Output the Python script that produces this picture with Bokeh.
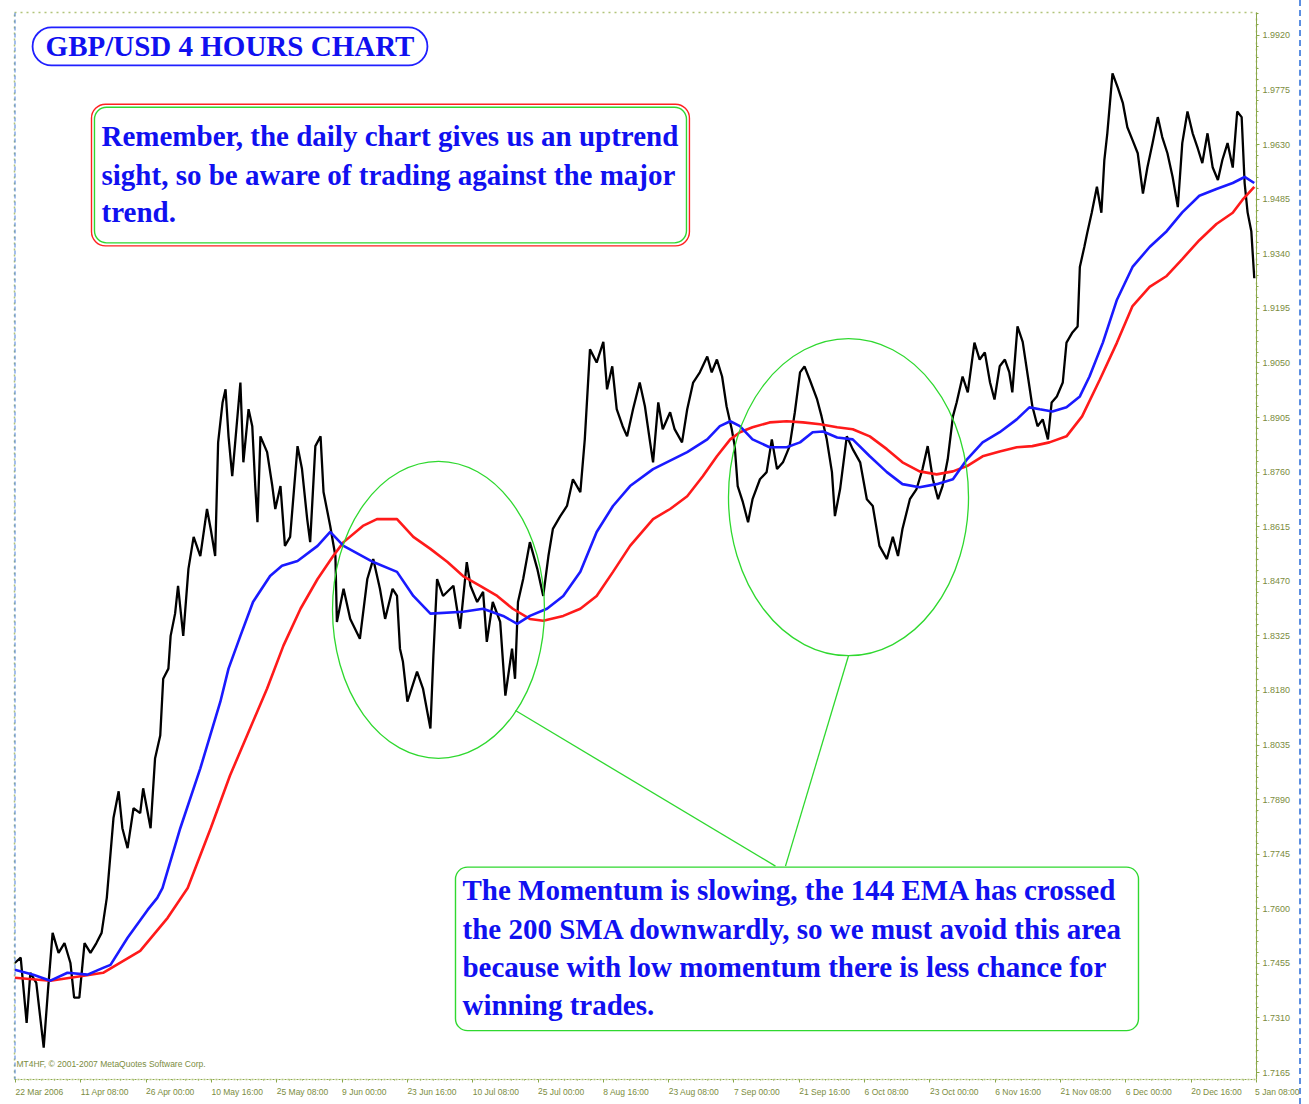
from bokeh.plotting import figure
from bokeh.models import (Range1d, FixedTicker, Label, BoxAnnotation, Span)
from bokeh.embed import file_html
from bokeh.resources import INLINE

# ---------------- data (bar index of 4-hour bars, price) ----------------
price_bar = [
    -1, 7, 15, 20, 28, 38, 44, 50, 58, 66,
    74, 79, 86, 93, 101, 109, 116, 123, 132, 139,
    144, 151, 159, 168, 172, 182, 188, 195, 199, 206,
    209, 215, 219, 226, 233, 240, 249, 258, 263, 269,
    273, 279, 283, 287, 292, 296, 303, 307, 314, 319,
    323, 326, 330, 339, 346, 350, 357, 363, 370, 380,
    386, 393, 397, 404, 411, 415, 424, 431, 433, 442,
    451, 464, 474, 482, 491, 498, 508, 514, 518, 522,
    528, 541, 549, 559, 563, 568, 576, 590, 599, 608,
    613, 622, 630, 635, 643, 653, 660, 669, 673, 677,
    684, 693, 703, 711, 718, 724, 734, 743, 751, 761,
    767, 774, 783, 792, 797, 804, 810, 818, 824, 832,
    841, 848, 855, 859, 866, 872, 882, 888, 898, 905,
    913, 922, 932, 938, 945, 952, 958, 965, 969, 973,
    980, 987, 993, 1003, 1012, 1019, 1026, 1034, 1043, 1050,
    1057, 1063, 1070, 1080, 1086, 1093, 1100, 1104, 1111, 1120,
    1128, 1138, 1147, 1155, 1164, 1174, 1182, 1189, 1195, 1205,
    1214, 1222, 1229, 1236, 1243, 1249, 1256, 1263, 1268, 1276,
    1283, 1292, 1299, 1306, 1313, 1319, 1326, 1333, 1339, 1343,
    1350, 1357, 1364, 1370, 1377, 1384, 1391, 1396, 1403, 1411,
    1416, 1424, 1431, 1434, 1440, 1444, 1450, 1457, 1463, 1467,
    1471, 1478, 1485, 1492, 1498, 1505, 1512, 1519, 1525, 1532,
    1539, 1545, 1552, 1559, 1566, 1572, 1579, 1586, 1593, 1599,
    1606, 1613, 1620, 1626, 1633, 1640, 1646, 1652, 1656, 1660,
    1665, 1669,
]
price_close = [
    1.7456, 1.7470, 1.7297, 1.7430, 1.7403, 1.7231, 1.7390, 1.7536, 1.7483, 1.7509,
    1.7456, 1.7364, 1.7364, 1.7509, 1.7483, 1.7509, 1.7536, 1.7629, 1.7841, 1.7912,
    1.7814, 1.7761, 1.7867, 1.7854, 1.7920, 1.7814, 1.7999, 1.8060, 1.8211, 1.8238,
    1.8325, 1.8384, 1.8458, 1.8325, 1.8503, 1.8588, 1.8537, 1.8662, 1.8609, 1.8537,
    1.8839, 1.8945, 1.8980, 1.8855, 1.8749, 1.8839, 1.8998, 1.8786, 1.8927, 1.8882,
    1.8723, 1.8627, 1.8855, 1.8813, 1.8723, 1.8662, 1.8723, 1.8564, 1.8588, 1.8829,
    1.8768, 1.8635, 1.8574, 1.8829, 1.8855, 1.8707, 1.8617, 1.8537, 1.8362, 1.8450,
    1.8370, 1.8317, 1.8476, 1.8529, 1.8450, 1.8370, 1.8450, 1.8431, 1.8291, 1.8256,
    1.8150, 1.8230, 1.8185, 1.8079, 1.8272, 1.8476, 1.8431, 1.8458, 1.8344, 1.8521,
    1.8458, 1.8415, 1.8442, 1.8309, 1.8415, 1.8362, 1.8166, 1.8291, 1.8211, 1.8415,
    1.8476, 1.8574, 1.8503, 1.8431, 1.8537, 1.8609, 1.8643, 1.8670, 1.8741, 1.8707,
    1.8847, 1.9086, 1.9051, 1.9106, 1.8980, 1.9041, 1.8927, 1.8882, 1.8855, 1.8927,
    1.8998, 1.8935, 1.8839, 1.8786, 1.8945, 1.8874, 1.8919, 1.8874, 1.8839, 1.8927,
    1.8998, 1.9025, 1.9067, 1.9025, 1.9059, 1.9014, 1.8935, 1.8874, 1.8829, 1.8723,
    1.8680, 1.8627, 1.8688, 1.8741, 1.8760, 1.8847, 1.8768, 1.8786, 1.8829, 1.8919,
    1.9025, 1.9041, 1.9006, 1.8953, 1.8908, 1.8847, 1.8760, 1.8643, 1.8715, 1.8855,
    1.8821, 1.8786, 1.8688, 1.8670, 1.8564, 1.8529, 1.8588, 1.8537, 1.8609, 1.8688,
    1.8715, 1.8768, 1.8829, 1.8741, 1.8688, 1.8723, 1.8794, 1.8908, 1.8945, 1.9014,
    1.8972, 1.9104, 1.9059, 1.9078, 1.8998, 1.8953, 1.9041, 1.9059, 1.9025, 1.8972,
    1.9147, 1.9106, 1.9014, 1.8935, 1.8882, 1.8900, 1.8847, 1.8945, 1.8961, 1.8998,
    1.9104, 1.9131, 1.9147, 1.9305, 1.9358, 1.9396, 1.9449, 1.9518, 1.9449, 1.9589,
    1.9660, 1.9819, 1.9782, 1.9740, 1.9676, 1.9642, 1.9607, 1.9500, 1.9569, 1.9634,
    1.9703, 1.9650, 1.9607, 1.9544, 1.9464, 1.9634, 1.9718, 1.9660, 1.9619, 1.9581,
    1.9660, 1.9569, 1.9536, 1.9589, 1.9634, 1.9569, 1.9718, 1.9703, 1.9528, 1.9450,
    1.9400, 1.9275,
]

ema144_bar = [-1, 24, 47, 70, 97, 118, 128, 151, 178, 191, 198, 222, 249, 276, 287,
              303, 320, 343, 359, 380, 407, 424, 442, 482, 514, 536, 559, 603, 630,
              657, 676, 693, 716, 738, 761, 783, 805, 828, 859, 905, 932, 949, 963,
              976, 993, 1016, 1039, 1057, 1074, 1088, 1107, 1128, 1151, 1174, 1195,
              1218, 1241, 1263, 1282, 1303, 1326, 1349, 1366, 1380, 1397, 1416, 1434,
              1447, 1465, 1484, 1505, 1528, 1551, 1572, 1595, 1618, 1640, 1656, 1669]
ema144 = [1.7438, 1.7425, 1.7409, 1.7430, 1.7425, 1.7443, 1.7451, 1.7523, 1.7597, 1.7629,
          1.7655, 1.7814, 1.7973, 1.8150, 1.8238, 1.8325, 1.8415, 1.8484, 1.8511, 1.8524,
          1.8564, 1.8601, 1.8564, 1.8521, 1.8495, 1.8431, 1.8384, 1.8389, 1.8397, 1.8378,
          1.8357, 1.8378, 1.8397, 1.8431, 1.8495, 1.8601, 1.8670, 1.8723, 1.8768, 1.8813,
          1.8847, 1.8882, 1.8895, 1.8882, 1.8847, 1.8826, 1.8826, 1.8839, 1.8866, 1.8868,
          1.8852, 1.8847, 1.8802, 1.8760, 1.8728, 1.8720, 1.8728, 1.8741, 1.8794, 1.8839,
          1.8866, 1.8900, 1.8932, 1.8927, 1.8921, 1.8932, 1.8961, 1.9014, 1.9104, 1.9218,
          1.9305, 1.9358, 1.9400, 1.9450, 1.9494, 1.9512, 1.9528, 1.9544, 1.9528]

sma200_bar = [-1, 47, 92, 118, 168, 205, 232, 263, 289, 316, 339, 361, 384, 407, 428,
              442, 468, 487, 514, 536, 559, 582, 603, 626, 649, 670, 693, 711, 738, 761,
              783, 805, 828, 859, 882, 905, 926, 945, 963, 976, 993, 1016, 1039, 1061,
              1084, 1107, 1128, 1151, 1174, 1195, 1218, 1241, 1263, 1282, 1303, 1326,
              1349, 1370, 1393, 1416, 1437, 1461, 1484, 1505, 1528, 1551, 1572, 1595,
              1618, 1640, 1653, 1669]
sma200 = [1.7417, 1.7409, 1.7422, 1.7430, 1.7488, 1.7576, 1.7655, 1.7814, 1.7954, 1.8079,
          1.8185, 1.8299, 1.8397, 1.8476, 1.8537, 1.8574, 1.8617, 1.8635, 1.8635, 1.8588,
          1.8556, 1.8521, 1.8484, 1.8458, 1.8431, 1.8397, 1.8370, 1.8365, 1.8378, 1.8397,
          1.8431, 1.8495, 1.8564, 1.8635, 1.8662, 1.8696, 1.8749, 1.8802, 1.8847, 1.8866,
          1.8879, 1.8892, 1.8895, 1.8892, 1.8887, 1.8879, 1.8874, 1.8855, 1.8821, 1.8786,
          1.8762, 1.8754, 1.8762, 1.8776, 1.8802, 1.8815, 1.8826, 1.8829, 1.8839, 1.8855,
          1.8908, 1.9006, 1.9104, 1.9201, 1.9252, 1.9281, 1.9326, 1.9376, 1.9419, 1.9449,
          1.9483, 1.9518]

y_ticks = [1.7165, 1.7310, 1.7455, 1.7600, 1.7745, 1.7890, 1.8035, 1.8180, 1.8325, 1.8470,
           1.8615, 1.8760, 1.8905, 1.9050, 1.9195, 1.9340, 1.9485, 1.9630, 1.9775, 1.9920]
x_tick_bars = [0, 88, 176, 264, 352, 440, 528, 616, 704, 792,
               880, 968, 1056, 1144, 1232, 1320, 1408, 1496, 1584, 1672]
x_tick_labels = ["22 Mar 2006", "11 Apr 08:00", "26 Apr 00:00", "10 May 16:00", "25 May 08:00",
                 "9 Jun 00:00", "23 Jun 16:00", "10 Jul 08:00", "25 Jul 00:00", "8 Aug 16:00",
                 "23 Aug 08:00", "7 Sep 00:00", "21 Sep 16:00", "6 Oct 08:00", "23 Oct 00:00",
                 "6 Nov 16:00", "21 Nov 08:00", "6 Dec 00:00", "20 Dec 16:00", "5 Jan 08:00"]

# ---------------- figure ----------------
Y0, Y1 = 1.71465, 1.99809
p = figure(width=1301, height=1104, output_backend="svg", toolbar_location=None,
           x_range=Range1d(-1.35, 1672), y_range=Range1d(Y0, Y1),
           y_axis_location="right",
           min_border_left=14, min_border_top=12, min_border_right=45, min_border_bottom=22)
p.background_fill_color = "white"
p.border_fill_color = "white"
p.xgrid.visible = False
p.ygrid.visible = False
p.outline_line_color = "#b2c47a"
p.outline_line_dash = "dotted"
p.outline_line_width = 1.5

axis_col = "#8aa84a"
lab_col = "#7b8c3e"
small_font = "Liberation Sans"

xa = p.xaxis[0]
step = 88 / 5
xa.ticker = FixedTicker(ticks=x_tick_bars,
                        minor_ticks=[i * step for i in range(0, 96)])
xa.major_label_overrides = {b: t for b, t in zip(x_tick_bars, x_tick_labels)}
xa.major_label_text_font = small_font
xa.major_label_text_font_size = "8.5px"
xa.major_label_text_color = lab_col
xa.major_label_orientation = -0.0001   # tiny angle -> labels start at their tick (MT4 style)
xa.major_label_standoff = 9
xa.axis_line_color = axis_col
xa.axis_line_dash = "dotted"
xa.major_tick_line_color = axis_col
xa.minor_tick_line_color = axis_col
xa.major_tick_out = 3
xa.major_tick_in = 0
xa.minor_tick_out = 1
xa.minor_tick_in = 0

ya = p.yaxis[0]
ystep = 0.0145 / 5
ya.ticker = FixedTicker(ticks=y_ticks,
                        minor_ticks=[1.7165 + i * ystep for i in range(0, 100)])
ya.major_label_overrides = {v: "%.4f" % v for v in y_ticks}
ya.major_label_text_font = small_font
ya.major_label_text_font_size = "9px"
ya.major_label_text_color = lab_col
ya.major_label_standoff = 3
ya.axis_line_color = axis_col
ya.major_tick_line_color = axis_col
ya.minor_tick_line_color = axis_col
ya.major_tick_out = 3
ya.major_tick_in = 0
ya.minor_tick_out = 2
ya.minor_tick_in = 0

# left blue dashed edge
p.add_layout(Span(location=-1.35, dimension="height", line_color="#4a7fd8",
                  line_dash="4 3", line_width=2))

# ---------------- series ----------------
p.line(price_bar, price_close, line_color="black", line_width=2.3)
p.line(sma200_bar, sma200, line_color="#ff1a1a", line_width=2.6)
p.line(ema144_bar, ema144, line_color="#1a1aff", line_width=2.6)

# ---------------- annotations ----------------
green = "#2fd82f"
p.ellipse(x=[569.9, 1122.3], y=[1.83942, 1.86935], width=[285.6, 323.4],
          height=[0.07894, 0.08424], fill_color=None, line_color=green, line_width=1.3)
p.segment(x0=[673.6, 1122.3], y0=[1.81266, 1.82723], x1=[1023.9, 1037.4],
          y1=[1.77134, 1.77134], line_color=green, line_width=1.3)

blue_txt = "#1010f0"
serif = "Liberation Serif"

# title
p.add_layout(BoxAnnotation(left=23, right=555, top=1.99412, bottom=1.98405,
                           fill_color="white", fill_alpha=1.0, line_color="#2020ff",
                           line_alpha=1.0, line_width=1.8, border_radius=19))
p.add_layout(Label(x=289, y=1.98908, text="GBP/USD 4 HOURS CHART", text_align="center",
                   text_baseline="middle", text_font=serif, text_font_style="bold",
                   text_font_size="29px", text_color=blue_txt))

# reminder box (red outer, green inner)
p.add_layout(BoxAnnotation(left=102.4, right=908, top=1.97372, bottom=1.9361,
                           fill_color="white", fill_alpha=1.0, line_color="#ff2020",
                           line_alpha=1.0, line_width=1.4, border_radius=14))
p.add_layout(BoxAnnotation(left=106.4, right=904, top=1.97293, bottom=1.9369,
                           fill_alpha=0, line_color=green, line_alpha=1.0,
                           line_width=1.4, border_radius=12))
for t, yy in zip(["Remember, the daily chart gives us an uptrend",
                  "sight, so be aware of trading against the major",
                  "trend."], [1.96524, 1.95491, 1.94511]):
    p.add_layout(Label(x=115.9, y=yy, text=t, text_align="left", text_baseline="middle",
                       text_font=serif, text_font_style="bold", text_font_size="29px",
                       text_color=blue_txt))

# momentum box
p.add_layout(BoxAnnotation(left=592.8, right=1513, top=1.77107, bottom=1.72763,
                           fill_color="white", fill_alpha=1.0, line_color=green,
                           line_alpha=1.0, line_width=1.4, border_radius=12))
for t, yy in zip(["The Momentum is slowing, the 144 EMA has crossed",
                  "the 200 SMA downwardly, so we must avoid this area",
                  "because with low momentum there is less chance for",
                  "winning trades."], [1.76498, 1.75465, 1.74458, 1.73452]):
    p.add_layout(Label(x=602.2, y=yy, text=t, text_align="left", text_baseline="middle",
                       text_font=serif, text_font_style="bold", text_font_size="29px",
                       text_color=blue_txt))

p.add_layout(Label(x=1.3, y=1.71889, text="MT4HF, \u00a9 2001-2007 MetaQuotes Software Corp.",
                   text_align="left", text_baseline="middle", text_font=small_font,
                   text_font_size="8.5px", text_color=lab_col))

p.styles = {"border-right": "2px dashed #5b8ee0"}

open("out.html", "w").write(file_html(p, INLINE))
